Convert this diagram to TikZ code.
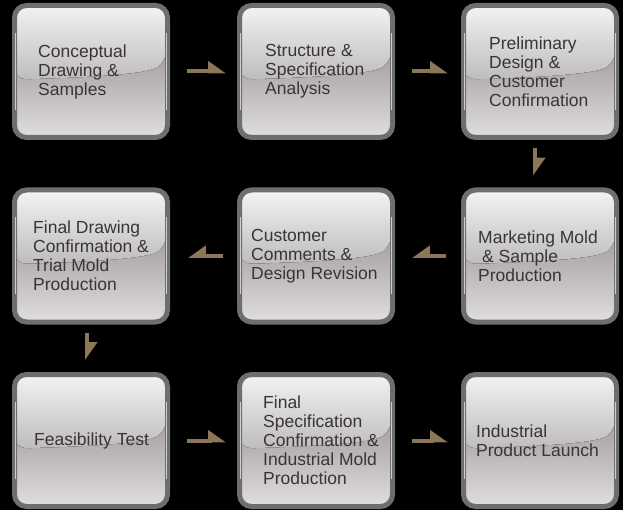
\documentclass[tikz,border=0pt]{standalone}
\usepackage{fontspec}
\setmainfont{Liberation Sans}
\usetikzlibrary{arrows.meta}

\definecolor{rimgray}{RGB}{108,111,108}
\definecolor{rimlight}{RGB}{205,207,205}
\definecolor{textgray}{RGB}{58,52,52}
\definecolor{arrowtan}{RGB}{140,118,88}
\definecolor{glosstop}{RGB}{243,243,243}
\definecolor{glossbot}{RGB}{190,188,188}
\definecolor{basedark}{RGB}{133,123,122}
\definecolor{baselight}{RGB}{224,222,222}

\begin{document}
\begin{tikzpicture}[x=1pt,y=-1pt]
        \tikzstyle{stage}=[rectangle,rounded corners=12pt,draw=rimgray,line width=5pt,
          minimum width=153pt,minimum height=132pt,
          top color=basedark,middle color=basedark,bottom color=baselight,
          path picture={
            \coordinate (gl) at (path picture bounding box.north west);
            \fill[top color=glosstop,bottom color=glossbot]
              (gl) -- ([xshift=153pt]gl) -- ([shift={(153pt,-53pt)}]gl)
              .. controls ([shift={(135pt,-69pt)}]gl) and ([shift={(70pt,-72pt)}]gl) .. ([shift={(0pt,-74pt)}]gl) -- cycle;
          },
          append after command={
            ([shift={(3.5pt,-30pt)}]\tikzlastnode.north west) edge[rimshine] ([shift={(3.5pt,30pt)}]\tikzlastnode.south west)
            ([shift={(-3.5pt,-30pt)}]\tikzlastnode.north east) edge[rimshine] ([shift={(-3.5pt,30pt)}]\tikzlastnode.south east)
          }]
        \tikzstyle{rimshine}=[draw=rimlight,line width=1.6pt,-]
        \tikzstyle{txt}=[font=\fontsize{17.5}{19}\selectfont,text=textgray,align=left,inner sep=0pt,anchor=west]
        \tikzstyle{flow}=[draw=arrowtan,line width=4pt,-{Triangle[harpoon,length=15pt,width=20pt]}]
        \tikzstyle{backflow}=[draw=arrowtan,line width=4pt,-{Triangle[harpoon,swap,length=15pt,width=20pt]}]
       \fill[black] (0,0) rectangle (623,510);
       \begin{scope}
         % top row
         \node [stage] (concept) at (91,71.5) {};
         \node [stage] (analysis) at (316,71.5) {};
         \node [stage] (prelim) at (540,71.5) {};
         % middle row
         \node [stage] (market) at (540,256) {};
         \node [stage] (comments) at (316,256) {};
         \node [stage] (finaldraw) at (91,256) {};
         % bottom row
         \node [stage] (feasib) at (91,440.5) {};
         \node [stage] (finalspec) at (316,440.5) {};
         \node [stage] (launch) at (540,440.5) {};

         \node [txt] (concept-t) at ([xshift=26pt]concept.west) {Conceptual\\Drawing \&\\Samples};
         \node [txt] (analysis-t) at ([xshift=28pt]analysis.west) {Structure \&\\Specification\\Analysis};
         \node [txt] (prelim-t) at ([xshift=28pt]prelim.west) {Preliminary\\Design \&\\Customer\\Confirmation};
         \node [txt] (market-t) at ([xshift=17pt]market.west) {Marketing Mold\\\hspace*{4pt}\& Sample\\Production};
         \node [txt] (comments-t) at ([xshift=14pt]comments.west) {Customer\\Comments \&\\Design Revision};
         \node [txt] (finaldraw-t) at ([xshift=21pt]finaldraw.west) {Final Drawing\\Confirmation \&\\Trial Mold\\Production};
         \node [txt] (feasib-t) at ([xshift=22pt]feasib.west) {Feasibility Test};
         \node [txt] (finalspec-t) at ([xshift=26pt]finalspec.west) {Final\\Specification\\Confirmation \&\\Industrial Mold\\Production};
         \node [txt] (launch-t) at ([xshift=15pt]launch.west) {Industrial\\Product Launch};

         \path[flow,shorten <=17pt,shorten >=11pt] (concept) -- (analysis);
         \path[flow,shorten <=17pt,shorten >=13pt] (analysis) -- (prelim);
         \path[flow,shorten <=8pt,shorten >=12pt] ([xshift=-5pt]prelim.south) -- ([xshift=-5pt]market.north);
         \path[backflow,shorten <=15pt,shorten >=17pt] (market) -- (comments);
         \path[backflow,shorten <=14pt,shorten >=18pt] (comments) -- (finaldraw);
         \path[flow,shorten <=8pt,shorten >=12pt] ([xshift=-4pt]finaldraw.south) -- ([xshift=-4pt]feasib.north);
         \path[flow,shorten <=17pt,shorten >=11pt] (feasib) -- (finalspec);
         \path[flow,shorten <=17pt,shorten >=13pt] (finalspec) -- (launch);
        \end{scope}
      \end{tikzpicture}
\end{document}
